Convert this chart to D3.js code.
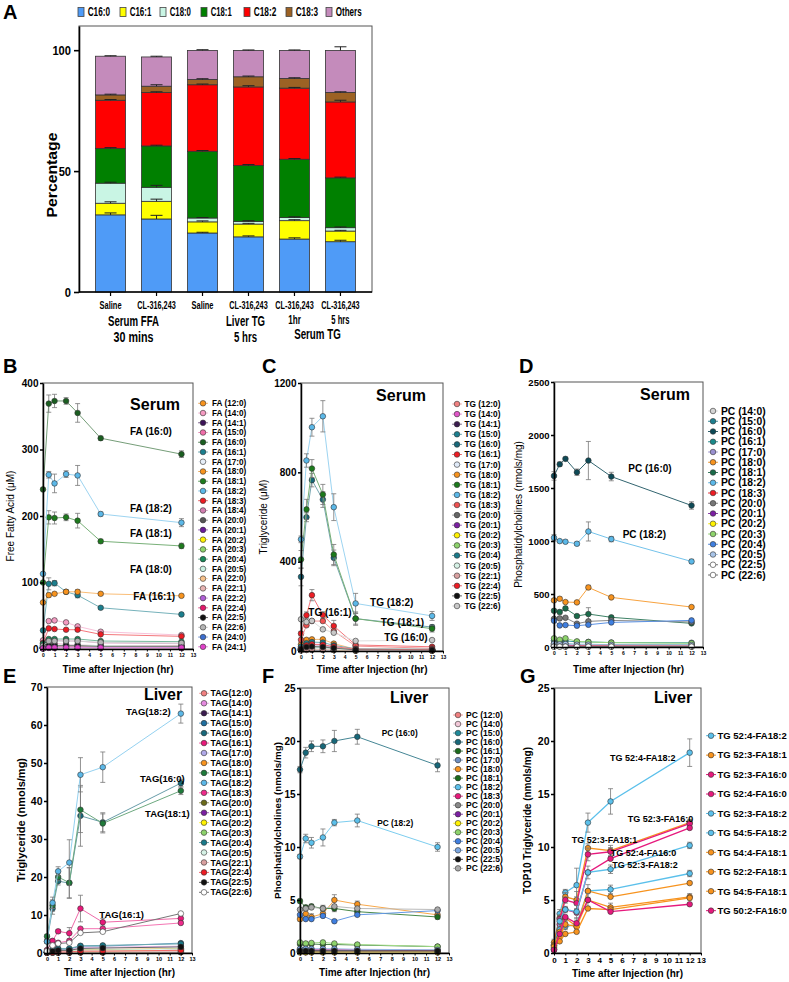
<!DOCTYPE html>
<html>
<head>
<meta charset="utf-8">
<script src="https://cdn.jsdelivr.net/npm/d3@7"></script>
<style>
body { margin: 0; background: #fff; }
svg { display: block; font-family: "Liberation Sans", Arial, sans-serif; }
</style>
</head>
<body>
<svg id="fig" width="789" height="982"></svg>
<script>
// sampling times (hr) shared by panels B-G
const times = [0, 0.5, 1, 2, 3, 5, 12];

// ---- Panel A: fatty acid composition (%) ----
const aGroups = ['Saline', 'CL-316,243', 'Saline', 'CL-316,243', 'CL-316,243', 'CL-316,243'];
const aKeys = ['C16:0', 'C16:1', 'C18:0', 'C18:1', 'C18:2', 'C18:3', 'Others'];
const aC16_0 = [31.9, 30.2, 24.4, 22.8, 21.9, 20.8];
const aC16_1 = [4.8, 7.3, 4.6, 5.3, 7.6, 4.4];
const aC18_0 = [8.3, 5.8, 1.6, 1.1, 1.3, 1.4];
const aC18_1 = [14.4, 17.1, 27.6, 23.1, 24.1, 20.6];
const aC18_2 = [19.9, 22.1, 27.5, 32.5, 29.4, 31.4];
const aC18_3 = [2.2, 2.6, 2.2, 4.2, 4.0, 3.9];
const aOthers = [16.0, 12.1, 12.0, 10.9, 11.6, 17.4];
const aErrors = [
    [0.8, 1.5, 0.3, 0.4, 0.5, 0.6],
    [0.6, 0.9, 0.4, 0.3, 0.4, 0.3],
    [0.4, 0.8, 0.2, 0.3, 0.3, 0.3],
    [0.3, 0.3, 0.3, 0.4, 0.3, 0.3],
    [0.3, 0.3, 0.3, 0.5, 0.3, 0.7],
    [0.3, 0.6, 0.3, 0.3, 0.3, 0.3],
    [0.2, 0.3, 0.3, 0.2, 0.2, 1.5]
];
const aColors = ['#4f9bf7', '#ffff00', '#c9f5e4', '#008000', '#ff0000', '#9c6224', '#c48bbb'];

// ---- Panel B: serum free fatty acids (uM) ----
const bNames = ['FA (12:0)', 'FA (14:0)', 'FA (14:1)', 'FA (15:0)', 'FA (16:0)', 'FA (16:1)', 'FA (17:0)',
    'FA (18:0)', 'FA (18:1)', 'FA (18:2)', 'FA (18:3)', 'FA (18:4)', 'FA (20:0)', 'FA (20:1)', 'FA (20:2)',
    'FA (20:3)', 'FA (20:4)', 'FA (20:5)', 'FA (22:0)', 'FA (22:1)', 'FA (22:2)', 'FA (22:4)', 'FA (22:5)',
    'FA (22:6)', 'FA (24:0)', 'FA (24:1)'];
const bValues = [
    [2, 4, 4, 3, 3, 3, 3],
    [13, 42, 43, 40, 34, 26, 21],
    [1, 2, 2, 2, 2, 1.5, 1.5],
    [4, 8, 8, 7, 6, 5, 5],
    [240, 369, 373, 373, 355, 317, 293],
    [28, 98, 99, 86, 81, 62, 52],
    [3, 5, 5, 4, 4, 4, 3],
    [70, 81, 83, 86, 86, 83, 80],
    [100, 198, 197, 198, 193, 162, 155],
    [113, 262, 249, 263, 261, 203, 190],
    [9, 31, 30, 29, 29, 22, 19],
    [6, 13, 13, 12, 12, 9, 8],
    [2, 3, 3, 3, 3, 2.5, 2.5],
    [2, 4, 4, 4, 4, 3, 3],
    [1, 2, 2, 2, 2, 1.5, 1.5],
    [2, 5, 5, 5, 5, 4, 4],
    [8, 15, 15, 15, 15, 12, 11],
    [3, 6, 6, 6, 6, 5, 4],
    [1, 2, 2, 2, 2, 2, 2],
    [2, 3, 3, 3, 3, 2.5, 2.5],
    [1, 2, 2, 2, 2, 1.5, 1.5],
    [1, 3, 3, 3, 3, 2, 2],
    [2, 5, 5, 5, 5, 4, 4],
    [5, 12, 12, 12, 12, 10, 9],
    [1, 2, 2, 2, 2, 2, 2],
    [1, 2, 2, 2, 2, 2, 2]
];
const bErr = {
    'FA (16:0)': [0, 13, 10, 5, 14, 3, 5],
    'FA (18:2)': [0, 5, 14, 5, 15, 3, 6],
    'FA (18:1)': [0, 10, 9, 5, 11, 3, 4],
    'FA (16:1)': [0, 9, 4, 3, 4, 2, 2],
    'FA (18:0)': [0, 3, 2, 2, 3, 2, 2]
};
const bColors = ['#f7931e', '#f49ac1', '#3d1458', '#f06eaa', '#1a5e20', '#1b7f8e', '#e6eef8', '#f7931e',
    '#1e7b1e', '#5bb8e8', '#ed1c24', '#d27fb0', '#555555', '#6a1b9a', '#fff200', '#8dd36b', '#1a8a5a',
    '#c8efe0', '#f9c38c', '#e8b4b4', '#b05fd6', '#e3196b', '#111111', '#b4b4b4', '#3c6ecf', '#e040c8'];
const bLabels = [['FA (16:0)', 7.54, 327], ['FA (18:2)', 7.54, 212], ['FA (18:1)', 7.54, 174],
    ['FA (18:0)', 7.54, 120], ['FA (16:1)', 7.83, 79]];

// ---- Panel C: serum triglyceride (uM) ----
const cNames = ['TG (12:0)', 'TG (14:0)', 'TG (14:1)', 'TG (15:0)', 'TG (16:0)', 'TG (16:1)', 'TG (17:0)',
    'TG (18:0)', 'TG (18:1)', 'TG (18:2)', 'TG (18:3)', 'TG (20:0)', 'TG (20:1)', 'TG (20:2)', 'TG (20:3)',
    'TG (20:4)', 'TG (20:5)', 'TG (22:1)', 'TG (22:4)', 'TG (22:5)', 'TG (22:6)'];
const cValues = [
    [5, 8, 8, 7, 6, 2, 2],
    [15, 25, 30, 30, 15, 5, 4],
    [3, 5, 5, 5, 4, 2, 2],
    [8, 12, 14, 13, 9, 3, 3],
    [332, 599, 765, 678, 417, 145, 107],
    [78, 160, 250, 161, 112, 27, 19],
    [3, 5, 6, 5, 4, 2, 2],
    [30, 50, 52, 52, 33, 8, 7],
    [410, 634, 817, 701, 432, 145, 100],
    [500, 853, 1002, 1051, 644, 213, 157],
    [50, 115, 134, 134, 89, 22, 12],
    [5, 8, 10, 9, 6, 3, 3],
    [10, 20, 22, 22, 15, 5, 4],
    [4, 8, 10, 9, 6, 2, 2],
    [10, 18, 20, 20, 14, 5, 4],
    [20, 35, 40, 38, 25, 10, 8],
    [5, 10, 12, 11, 8, 3, 3],
    [3, 6, 8, 7, 5, 2, 2],
    [10, 25, 30, 28, 20, 8, 6],
    [8, 18, 20, 18, 13, 5, 4],
    [142, 130, 135, 97, 82, 45, 49]
];
const cErr = {
    'TG (18:2)': [15, 30, 40, 70, 60, 45, 20],
    'TG (18:1)': [40, 45, 40, 45, 45, 30, 15],
    'TG (16:0)': [40, 20, 30, 35, 35, 25, 10],
    'TG (16:1)': [10, 15, 25, 15, 25, 5, 5]
};
const cColors = ['#f08080', '#e055c8', '#3b1c4f', '#1c7f8f', '#17687a', '#ed1c24', '#e0eaf8', '#f7931e',
    '#1b7a1b', '#5bb8e8', '#ef5050', '#666666', '#7b1fa2', '#fff200', '#8dd36b', '#1a7a8a', '#d6f2e6',
    '#d9a0a0', '#ed1c24', '#111111', '#c8c8c8'];
const cLabels = [['TG (18:2)', 6.32, 216], ['TG (16:1)', 0.67, 171], ['TG (18:1)', 7.30, 127], ['TG (16:0)', 7.63, 60]];

// ---- Panel D: serum phosphatidylcholines (nmols/mg) ----
const dNames = ['PC (14:0)', 'PC (15:0)', 'PC (16:0)', 'PC (16:1)', 'PC (17:0)', 'PC (18:0)', 'PC (18:1)',
    'PC (18:2)', 'PC (18:3)', 'PC (20:0)', 'PC (20:1)', 'PC (20:2)', 'PC (20:3)', 'PC (20:4)', 'PC (20:5)',
    'PC (22:5)', 'PC (22:6)'];
const dValues = [
    [10, 10, 10, 8, 8, 8, 8],
    [30, 28, 30, 25, 25, 22, 20],
    [1614, 1724, 1775, 1649, 1759, 1608, 1335],
    [60, 55, 58, 48, 48, 42, 40],
    [15, 14, 15, 12, 12, 12, 11],
    [440, 455, 424, 421, 562, 468, 377],
    [342, 330, 364, 292, 311, 280, 223],
    [1030, 999, 993, 974, 1090, 1018, 807],
    [20, 18, 20, 16, 16, 15, 14],
    [265, 270, 276, 220, 242, 251, 236],
    [8, 7, 8, 6, 6, 6, 5],
    [5, 5, 5, 4, 4, 4, 4],
    [82, 69, 82, 53, 47, 41, 35],
    [248, 204, 207, 201, 210, 232, 251],
    [30, 25, 28, 22, 22, 20, 18],
    [5, 5, 5, 4, 4, 4, 4],
    [3, 3, 3, 3, 3, 3, 3]
];
const dErr = {
    'PC (16:0)': [40, 20, 15, 30, 180, 40, 35],
    'PC (18:2)': [30, 15, 15, 15, 90, 25, 20],
    'PC (18:0)': [15, 15, 10, 10, 20, 10, 10],
    'PC (18:1)': [15, 20, 15, 10, 60, 10, 10]
};
const dColors = ['#d4d4d4', '#1e7f8f', '#0e4a57', '#1a8a8a', '#9a90d0', '#f7931e', '#1a6b4a', '#5bb8e8',
    '#ed1c24', '#777777', '#7b1fa2', '#fff200', '#8dd36b', '#3f7fe0', '#a8c4e8', '#ffffff', '#ffffff'];
const dLabels = [['PC (16:0)', 6.48, 1686], ['PC (18:2)', 5.99, 1066]];

// ---- Panel E: liver triglyceride (nmols/mg) ----
const eNames = ['TAG(12:0)', 'TAG(14:0)', 'TAG(14:1)', 'TAG(15:0)', 'TAG(16:0)', 'TAG(16:1)', 'TAG(17:0)',
    'TAG(18:0)', 'TAG(18:1)', 'TAG(18:2)', 'TAG(18:3)', 'TAG(20:0)', 'TAG(20:1)', 'TAG(20:2)', 'TAG(20:3)',
    'TAG(20:4)', 'TAG(20:5)', 'TAG(22:1)', 'TAG(22:4)', 'TAG(22:5)', 'TAG(22:6)'];
const eValues = [
    [0.1, 0.1, 0.1, 0.1, 0.1, 0.1, 0.2],
    [0.2, 0.5, 0.8, 0.8, 1.5, 1.5, 1.8],
    [0.05, 0.1, 0.1, 0.1, 0.2, 0.2, 0.2],
    [0.3, 0.8, 1.0, 1.0, 1.8, 1.8, 2.6],
    [3.1, 11.7, 18.9, 18.4, 36.1, 34.4, 44.7],
    [0.8, 3.2, 5.7, 5.2, 11.7, 8.1, 9.1],
    [0.1, 0.3, 0.4, 0.4, 0.7, 0.7, 1.0],
    [0.2, 0.4, 0.5, 0.5, 0.9, 0.9, 1.2],
    [4.4, 12.5, 20.0, 18.5, 37.7, 34.1, 42.7],
    [3.0, 13.2, 21.5, 23.8, 46.9, 48.9, 63.0],
    [0.5, 1.8, 2.7, 3.2, 6.4, 6.4, 7.9],
    [0.05, 0.1, 0.1, 0.1, 0.2, 0.2, 0.3],
    [0.1, 0.3, 0.4, 0.4, 0.7, 0.7, 1.0],
    [0.1, 0.2, 0.3, 0.3, 0.5, 0.5, 0.7],
    [0.1, 0.3, 0.5, 0.5, 0.8, 0.8, 1.1],
    [0.3, 0.9, 1.2, 1.2, 1.9, 2.0, 2.4],
    [0.1, 0.3, 0.4, 0.4, 0.7, 0.7, 1.0],
    [0.05, 0.1, 0.2, 0.2, 0.3, 0.3, 0.4],
    [0.1, 0.2, 0.3, 0.3, 0.5, 0.5, 0.7],
    [0.2, 0.5, 0.7, 0.7, 1.2, 1.3, 1.6],
    [0.5, 2.0, 2.5, 2.7, 5.3, 5.6, 10.4]
];
const eErr = {
    'TAG(18:2)': [0.5, 1.5, 1.2, 6, 4.5, 4, 2.5],
    'TAG(16:0)': [0.5, 1.5, 1, 4, 8, 2.5, 1],
    'TAG(18:1)': [0.5, 1.5, 1, 4, 6, 2.5, 1],
    'TAG(16:1)': [0.2, 0.5, 0.5, 1.5, 3.5, 1, 0.8]
};
const eColors = ['#f08080', '#e58ae0', '#3b1c4f', '#1f6f9f', '#17687a', '#e8197a', '#b0a8e8', '#f7931e',
    '#1e7b3a', '#5bb8e8', '#ee2a8a', '#6b6b1a', '#7b1fa2', '#fff200', '#8dd36b', '#1a7a8a', '#d6f2e6',
    '#d9a0a0', '#ed1c24', '#111111', '#ffffff'];
const eLabels = [['TAG(18:2)', 7.08, 63.5], ['TAG(16:0)', 8.34, 46.0], ['TAG(18:1)', 8.79, 36.6], ['TAG(16:1)', 4.69, 10.0]];

// ---- Panel F: liver phosphatidylcholines (nmols/mg) ----
const fNames = ['PC (12:0)', 'PC (14:0)', 'PC (15:0)', 'PC (16:0)', 'PC (16:1)', 'PC (17:0)', 'PC (18:0)',
    'PC (18:1)', 'PC (18:2)', 'PC (18:3)', 'PC (20:0)', 'PC (20:1)', 'PC (20:2)', 'PC (20:3)', 'PC (20:4)',
    'PC (20:5)', 'PC (22:5)', 'PC (22:6)'];
const fValues = [
    [0.05, 0.05, 0.05, 0.05, 0.05, 0.05, 0.05],
    [0.1, 0.1, 0.1, 0.1, 0.1, 0.1, 0.1],
    [0.2, 0.2, 0.2, 0.2, 0.2, 0.2, 0.2],
    [17.3, 18.9, 19.5, 19.5, 20.0, 20.4, 17.7],
    [0.85, 0.85, 0.85, 0.8, 0.8, 0.75, 0.6],
    [0.3, 0.3, 0.3, 0.3, 0.3, 0.3, 0.25],
    [3.2, 3.7, 3.4, 3.7, 5.0, 4.6, 3.6],
    [4.9, 4.3, 4.4, 4.2, 4.2, 3.9, 3.4],
    [9.1, 10.8, 10.4, 10.9, 12.3, 12.5, 10.0],
    [0.3, 0.3, 0.3, 0.3, 0.3, 0.3, 0.25],
    [0.1, 0.1, 0.1, 0.1, 0.1, 0.1, 0.1],
    [0.15, 0.15, 0.15, 0.15, 0.15, 0.15, 0.15],
    [0.1, 0.1, 0.1, 0.1, 0.1, 0.1, 0.1],
    [1.0, 0.9, 0.95, 1.0, 0.9, 0.8, 0.6],
    [3.6, 3.2, 3.2, 3.5, 3.0, 3.6, 4.0],
    [0.4, 0.4, 0.4, 0.4, 0.4, 0.35, 0.3],
    [0.2, 0.2, 0.2, 0.2, 0.2, 0.2, 0.2],
    [4.1, 4.2, 4.3, 4.2, 4.4, 4.2, 4.1]
];
const fErr = {
    'PC (16:0)': [0.3, 0.5, 0.5, 0.6, 1.0, 0.7, 0.6],
    'PC (18:2)': [0.2, 0.4, 0.5, 0.8, 0.3, 0.6, 0.4],
    'PC (18:0)': [0.2, 0.3, 0.3, 0.3, 0.5, 0.3, 0.3],
    'PC (18:1)': [0.2, 0.2, 0.2, 0.3, 0.3, 0.2, 0.2]
};
const fColors = ['#f08080', '#f2c8d8', '#1e8a9a', '#17687a', '#1b6b1b', '#6f8fc0', '#f7931e', '#1b6b1b',
    '#5bc0eb', '#e8197a', '#888888', '#7b1fa2', '#fff200', '#8dd36b', '#3f7fe0', '#7aa6e0', '#111111', '#aaaaaa'];
const fLabels = [['PC (16:0)', 7.13, 20.7], ['PC (18:2)', 6.74, 12.3]];

// ---- Panel G: top10 liver triglycerides (nmols/mg) ----
const gNames = ['TG 52:4-FA18:2', 'TG 52:3-FA18:1', 'TG 52:3-FA16:0', 'TG 52:4-FA16:0', 'TG 52:3-FA18:2',
    'TG 54:5-FA18:2', 'TG 54:4-FA18:1', 'TG 52:2-FA18:1', 'TG 54:5-FA18:1', 'TG 50:2-FA16:0'];
const gValues = [
    [0.7, 3.7, 5.7, 6.4, 12.3, 14.3, 18.9],
    [1.0, 3.3, 5.3, 5.0, 9.9, 9.65, 12.3],
    [0.3, 3.2, 5.0, 4.7, 9.3, 9.55, 12.2],
    [0.3, 2.7, 4.1, 3.8, 7.6, 8.9, 11.8],
    [0.5, 3.0, 4.1, 3.9, 7.6, 7.9, 10.15],
    [0.4, 2.2, 2.5, 2.7, 5.85, 6.0, 7.5],
    [0.8, 2.0, 3.3, 2.5, 5.85, 5.3, 6.6],
    [0.7, 1.5, 2.7, 2.5, 5.0, 4.3, 5.3],
    [0.6, 1.1, 1.8, 2.0, 4.2, 4.1, 5.2],
    [0.3, 1.8, 3.4, 2.8, 5.0, 3.9, 4.6]
];
const gErr = {
    'TG 52:4-FA18:2': [0.3, 0.4, 0.3, 1.6, 0.9, 1.2, 1.3],
    'TG 52:3-FA18:1': [0.3, 0.3, 0.4, 0.8, 0.4, 0.5, 0.3],
    'TG 52:3-FA16:0': [0.2, 0.3, 0.3, 0.6, 0.6, 0.4, 0.3],
    'TG 52:3-FA18:2': [0.2, 0.3, 0.3, 0.6, 0.6, 0.4, 0.3],
    'TG 54:5-FA18:2': [0.2, 0.3, 0.3, 0.6, 0.6, 0.4, 0.3],
    'TG 52:2-FA18:1': [0.2, 0.3, 0.3, 0.6, 0.6, 0.4, 0.3]
};
const gColors = ['#5bc0eb', '#f7931e', '#e6197d', '#e6197d', '#5bc0eb', '#5bc0eb', '#f7931e', '#f7931e',
    '#f7931e', '#e6197d'];
const gLabels = [['TG 52:4-FA18:2', 4.95, 18.4], ['TG 52:3-FA16:0', 6.52, 12.7], ['TG 52:3-FA18:1', 1.57, 10.66],
    ['TG 52:4-FA16:0', 5.01, 9.46], ['TG 52:3-FA18:2', 5.16, 8.30]];

const svg = d3.select('#fig');

function panelLetter(text, x, y) {
    svg.append('text').attr('x', x).attr('y', y).text(text)
        .style('font-size', '20px').style('font-weight', 'bold');
}

// condensed bold text for panel A: squeeze horizontally to a given width
function narrowText(parent, x, y, text, size, width, anchor, rotate) {
    const t = parent.append('text').attr('x', 0).attr('y', 0).text(text)
        .attr('text-anchor', anchor || 'middle')
        .style('font-size', size + 'px').style('font-weight', 'bold');
    const natural = t.node().getComputedTextLength();
    const sx = natural > 0 ? width / natural : 1;
    t.attr('transform', `translate(${x},${y})${rotate ? ` rotate(${rotate})` : ''} scale(${sx},1)`);
    return t;
}

// Stacked bar panel
function drawPanelA() {
    const left = 79, right = 372, top = 26, bottom = 292;
    const x = d3.scaleBand().domain(d3.range(aGroups.length)).range([left, right])
        .paddingInner(0.348).paddingOuter(0.36);
    const y = d3.scaleLinear().domain([0, 110]).range([bottom, top]);

    const series = [aC16_0, aC16_1, aC18_0, aC18_1, aC18_2, aC18_3, aOthers];
    const rows = aGroups.map((g, i) => {
        const r = {};
        aKeys.forEach((k, j) => { r[k] = series[j][i]; });
        return r;
    });
    const stacked = d3.stack().keys(aKeys)(rows);

    const g = svg.append('g');
    g.append('rect').attr('x', left).attr('y', top).attr('width', right - left).attr('height', bottom - top)
        .attr('fill', 'none').attr('stroke', '#555').attr('stroke-width', 1);

    stacked.forEach((layer, j) => {
        g.append('g').selectAll('rect').data(layer).enter().append('rect')
            .attr('x', (d, i) => x(i))
            .attr('y', d => y(d[1]))
            .attr('width', x.bandwidth())
            .attr('height', d => y(d[0]) - y(d[1]))
            .attr('fill', aColors[j])
            .attr('stroke', '#333').attr('stroke-width', 0.8);
    });
    // error whiskers on top of each segment
    stacked.forEach((layer, j) => {
        layer.forEach((d, i) => {
            const cx = x(i) + x.bandwidth() / 2;
            const y0 = y(d[1]), y1 = y(d[1] + aErrors[j][i]);
            g.append('line').attr('x1', cx).attr('x2', cx).attr('y1', y0).attr('y2', y1)
                .attr('stroke', '#222').attr('stroke-width', 1);
            g.append('line').attr('x1', cx - 6).attr('x2', cx + 6).attr('y1', y1).attr('y2', y1)
                .attr('stroke', '#222').attr('stroke-width', 1);
        });
    });

    const yAxis = g.append('g').attr('transform', `translate(${left},0)`)
        .call(d3.axisLeft(y).tickValues([0, 50, 100]).tickSize(5).tickSizeOuter(0).tickFormat(() => ''));
    yAxis.select('.domain').attr('stroke', '#000').attr('stroke-width', 1.6);
    yAxis.selectAll('.tick line').attr('stroke-width', 1.6);
    [0, 50, 100].forEach(v => {
        narrowText(g, left - 8, y(v) + 4.6, String(v), 13.5, String(v).length * 6.2, 'end');
    });

    g.append('line').attr('x1', left).attr('x2', right).attr('y1', bottom).attr('y2', bottom)
        .attr('stroke', '#000').attr('stroke-width', 1.6);
    const nameWidth = { 'Saline': 22, 'CL-316,243': 38.5 };
    aGroups.forEach((name, i) => {
        const cx = x(i) + x.bandwidth() / 2;
        g.append('line').attr('x1', cx).attr('x2', cx).attr('y1', bottom).attr('y2', bottom + 4)
            .attr('stroke', '#000').attr('stroke-width', 1.2);
        narrowText(g, cx, 309, name, 11.5, nameWidth[name]);
    });

    const mid = (a, b) => (x(a) + x(b) + x.bandwidth()) / 2;
    const cx = i => x(i) + x.bandwidth() / 2;
    const subLabels = [
        ['Serum FFA', mid(0, 1), 326, 14.5, 51], ['30 mins', mid(0, 1), 342, 14.5, 40],
        ['Liver TG', cx(3) - 3, 326, 14.5, 39], ['5 hrs', cx(3) - 3, 342, 14.5, 23],
        ['1hr', cx(4), 324, 12, 12.7], ['5 hrs', cx(5), 324, 12, 18.3],
        ['Serum TG', mid(4, 5), 339, 14.5, 46.7]
    ];
    subLabels.forEach(([t, px, py, fs, w]) => narrowText(g, px, py, t, fs, w));

    narrowText(g, 57, 175, 'Percentage', 14, 85, 'middle', -90);

    // legend
    const legendX = [78, 120, 160, 201, 244, 286, 326];
    const legendW = [22.3, 21.7, 21.3, 21, 22.7, 22.3, 26];
    aKeys.forEach((k, i) => {
        g.append('rect').attr('x', legendX[i]).attr('y', 7.5).attr('width', 6).attr('height', 9)
            .attr('fill', aColors[i]).attr('stroke', '#444').attr('stroke-width', 0.8);
        narrowText(g, legendX[i] + 9.7, 16.3, k, 12.5, legendW[i], 'start');
    });
}

// Time-course line panel
function drawLinePanel(p) {
    const g = svg.append('g');
    const x = d3.scaleLinear().domain([0, 13]).range([p.left, p.right]);
    const y = d3.scaleLinear().domain([0, p.yMax]).range([p.bottom, p.top]);
    const lineColor = c => c === '#ffffff' ? '#777777' : d3.interpolateRgb(c, '#ffffff')(p.lighten);

    g.append('rect').attr('x', p.left).attr('y', p.top).attr('width', p.right - p.left).attr('height', p.bottom - p.top)
        .attr('fill', 'none').attr('stroke', '#555').attr('stroke-width', 1);

    const line = d3.line().x((d, i) => x(times[i])).y(d => y(d));

    p.names.forEach((name, i) => {
        const vals = p.values[i];
        const col = p.colors[i];
        g.append('path').datum(vals).attr('d', line).attr('fill', 'none')
            .attr('stroke', lineColor(col)).attr('stroke-width', p.lineWidth);
        const err = p.errors[name];
        if (err) {
            vals.forEach((v, k) => {
                if (!err[k]) return;
                const cx = x(times[k]);
                g.append('line').attr('x1', cx).attr('x2', cx).attr('y1', y(v - err[k])).attr('y2', y(v + err[k]))
                    .attr('stroke', '#777').attr('stroke-width', 0.8);
                [v - err[k], v + err[k]].forEach(e => {
                    g.append('line').attr('x1', cx - 2.5).attr('x2', cx + 2.5).attr('y1', y(e)).attr('y2', y(e))
                        .attr('stroke', '#777').attr('stroke-width', 0.8);
                });
            });
        }
        g.append('g').selectAll('circle').data(vals).enter().append('circle')
            .attr('cx', (d, k) => x(times[k])).attr('cy', d => y(d)).attr('r', p.r)
            .attr('fill', col).attr('stroke', '#333').attr('stroke-width', 0.6);
    });

    const yAxis = g.append('g').attr('transform', `translate(${p.left},0)`)
        .call(d3.axisLeft(y).tickValues(p.yTicks).tickFormat(d3.format('d'))
            .tickSize(3).tickSizeOuter(0).tickPadding(1.5));
    yAxis.select('.domain').attr('stroke', '#000').attr('stroke-width', 1.5);
    yAxis.selectAll('.tick line').attr('stroke-width', 1.5);
    yAxis.selectAll('text').style('font-size', p.yFont + 'px').style('font-weight', 'bold').attr('fill', '#000');

    const xAxis = g.append('g').attr('transform', `translate(0,${p.bottom})`)
        .call(d3.axisBottom(x).tickValues(d3.range(0, 14)).tickSize(2.5).tickSizeOuter(0).tickPadding(1.5));
    xAxis.select('.domain').attr('stroke', '#000').attr('stroke-width', 1.5);
    xAxis.selectAll('.tick line').attr('stroke-width', 1);
    xAxis.selectAll('text').style('font-size', p.xFont + 'px').style('font-weight', 'bold').attr('fill', '#000');

    g.append('text').attr('x', (p.left + p.right) / 2).attr('y', p.xTitleY).attr('text-anchor', 'middle')
        .text('Time after Injection (hr)').style('font-size', '10px').style('font-weight', 'bold');
    g.append('text').attr('transform', `translate(${p.yTitleX},${(p.top + p.bottom) / 2}) rotate(-90)`)
        .attr('text-anchor', 'middle').text(p.yTitle)
        .style('font-size', p.yTitleFont + 'px').style('font-weight', p.yTitleWeight);

    g.append('text').attr('x', p.tagX).attr('y', p.tagY).attr('text-anchor', 'middle').text(p.tag)
        .style('font-size', '16px').style('font-weight', 'bold');

    p.labels.forEach(([t, lx, ly]) => {
        g.append('text').attr('x', x(lx)).attr('y', y(ly)).attr('dy', '0.35em').text(t)
            .style('font-size', p.labelFont + 'px').style('font-weight', 'bold');
    });

    // legend
    p.names.forEach((name, i) => {
        const ly = p.legY + i * p.legDy;
        const col = p.colors[i];
        g.append('line').attr('x1', p.legX - 5).attr('x2', p.legX + 5).attr('y1', ly).attr('y2', ly)
            .attr('stroke', lineColor(col)).attr('stroke-width', 1);
        g.append('circle').attr('cx', p.legX).attr('cy', ly).attr('r', p.r)
            .attr('fill', col).attr('stroke', '#333').attr('stroke-width', 0.6);
        g.append('text').attr('x', p.legX + p.legGap).attr('y', ly).attr('dy', '0.35em').text(name)
            .style('font-size', p.legFont + 'px').style('font-weight', 'bold');
    });
}

panelLetter('A', 3, 19);
drawPanelA();

panelLetter('B', 3, 373);
drawLinePanel({
    names: bNames, values: bValues, colors: bColors, errors: bErr, labels: bLabels,
    left: 43, right: 193, top: 383, bottom: 649, yMax: 400, yTicks: [0, 100, 200, 300, 400],
    lighten: 0.4, lineWidth: 1, r: 2.8, yFont: 10, xFont: 5, xTitleY: 673,
    yTitle: 'Free Fatty Acid (\u03bcM)', yTitleX: 14, yTitleFont: 10, yTitleWeight: 'normal',
    tag: 'Serum', tagX: 155, tagY: 410, labelFont: 10,
    legX: 203, legGap: 9, legY: 403.3, legDy: 9.74, legFont: 8.2
});

panelLetter('C', 262, 373);
drawLinePanel({
    names: cNames, values: cValues, colors: cColors, errors: cErr, labels: cLabels,
    left: 301, right: 443, top: 383, bottom: 651, yMax: 1200, yTicks: [0, 400, 800, 1200],
    lighten: 0.4, lineWidth: 1, r: 2.8, yFont: 10, xFont: 5, xTitleY: 673,
    yTitle: 'Triglyceride (\u03bcM)', yTitleX: 267, yTitleFont: 10, yTitleWeight: 'normal',
    tag: 'Serum', tagX: 401, tagY: 401, labelFont: 10,
    legX: 457, legGap: 7.5, legY: 404, legDy: 10.1, legFont: 8.3
});

panelLetter('D', 519, 373);
drawLinePanel({
    names: dNames, values: dValues, colors: dColors, errors: dErr, labels: dLabels,
    left: 554, right: 703, top: 382, bottom: 647, yMax: 2500, yTicks: [0, 500, 1000, 1500, 2000, 2500],
    lighten: 0.15, lineWidth: 1, r: 2.8, yFont: 9.5, xFont: 5, xTitleY: 673,
    yTitle: 'Phosphatidylcholines (nmols/mg)', yTitleX: 522, yTitleFont: 10, yTitleWeight: 'normal',
    tag: 'Serum', tagX: 665, tagY: 400, labelFont: 10,
    legX: 713, legGap: 8, legY: 411, legDy: 10.25, legFont: 10.3
});

panelLetter('E', 3, 683);
drawLinePanel({
    names: eNames, values: eValues, colors: eColors, errors: eErr, labels: eLabels,
    left: 47, right: 192, top: 687, bottom: 953, yMax: 70, yTicks: [0, 10, 20, 30, 40, 50, 60, 70],
    lighten: 0.35, lineWidth: 1, r: 2.8, yFont: 10.5, xFont: 5.5, xTitleY: 976,
    yTitle: 'Triglyceride (nmols/mg)', yTitleX: 25, yTitleFont: 11, yTitleWeight: 'bold',
    tag: 'Liver', tagX: 163, tagY: 700, labelFont: 9.5,
    legX: 204, legGap: 6.5, legY: 693.3, legDy: 9.95, legFont: 8.8
});

panelLetter('F', 262, 683);
drawLinePanel({
    names: fNames, values: fValues, colors: fColors, errors: fErr, labels: fLabels,
    left: 300, right: 449, top: 688, bottom: 953, yMax: 25, yTicks: [0, 5, 10, 15, 20, 25],
    lighten: 0.2, lineWidth: 1, r: 2.8, yFont: 10, xFont: 5.5, xTitleY: 976,
    yTitle: 'Phosphatidylcholines (nmols/mg)', yTitleX: 281, yTitleFont: 9.8, yTitleWeight: 'bold',
    tag: 'Liver', tagX: 409, tagY: 703, labelFont: 8.3,
    legX: 458, legGap: 8, legY: 715, legDy: 9.02, legFont: 8.5
});

panelLetter('G', 520, 683);
drawLinePanel({
    names: gNames, values: gValues, colors: gColors, errors: gErr, labels: gLabels,
    left: 554, right: 701, top: 688, bottom: 953, yMax: 25, yTicks: [0, 5, 10, 15, 20, 25],
    lighten: 0, lineWidth: 1.3, r: 2.8, yFont: 10.5, xFont: 8, xTitleY: 977,
    yTitle: 'TOP10 Triglyceride (nmols/mg)', yTitleX: 531, yTitleFont: 10, yTitleWeight: 'bold',
    tag: 'Liver', tagX: 673, tagY: 703, labelFont: 9,
    legX: 711, legGap: 6.5, legY: 735.7, legDy: 19.44, legFont: 9.5
});
</script>
</body>
</html>
